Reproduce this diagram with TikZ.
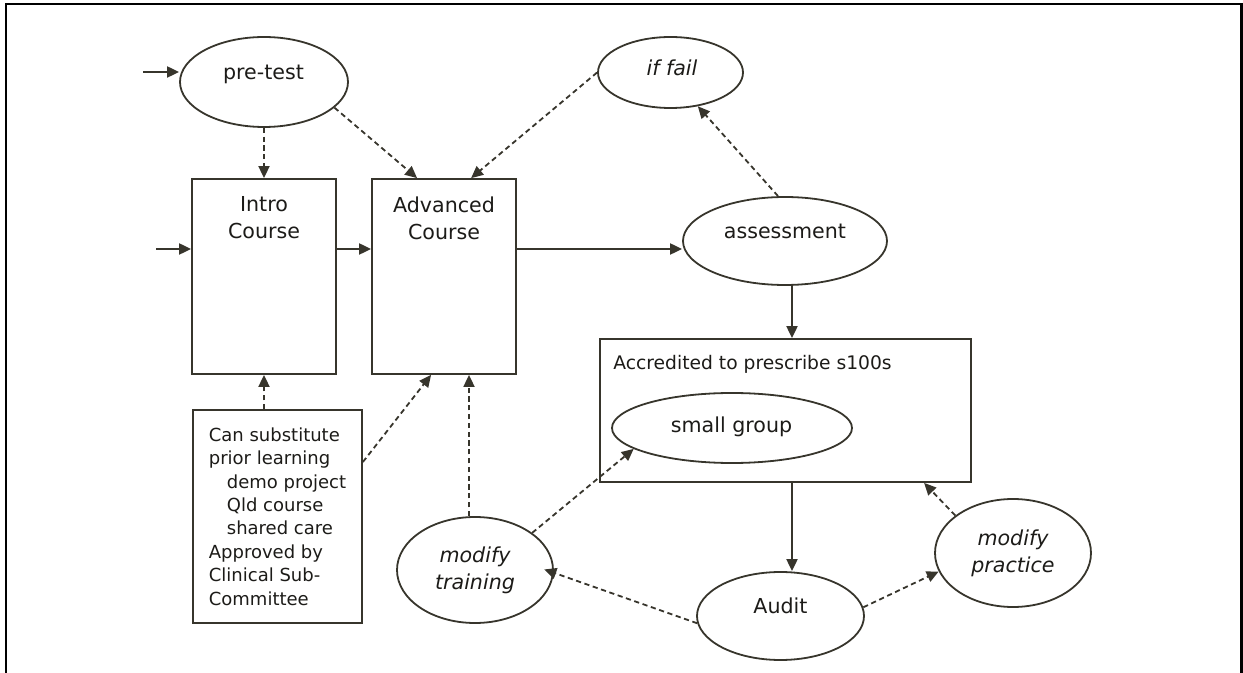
\documentclass[tikz,border=0pt]{standalone}
\usepackage{fontspec}
\setmainfont{DejaVu Sans}
\usetikzlibrary{shapes.geometric,arrows.meta,calc}
\definecolor{ink}{RGB}{55,53,44}
\definecolor{txt}{RGB}{28,27,24}
\begin{document}
\begin{tikzpicture}[x=0.5pt,y=-0.5pt,
  every node/.style={inner sep=0pt, text=txt},
  oval/.style={ellipse, draw=ink, line width=0.9pt},
  boxnode/.style={rectangle, draw=ink, line width=0.9pt},
  lbl/.style={font=\fontsize{10.3}{13.5}\selectfont, align=center},
  itl/.style={font=\fontsize{10.3}{13.5}\selectfont\itshape, align=center},
  flow/.style={draw=ink, line width=1pt, -{Triangle[length=6pt,width=5.5pt]}},
  hint/.style={flow, line width=0.9pt, dash pattern=on 2.6pt off 1.8pt},
]
\useasboundingbox (0,0) rectangle (1243,673);

% page frame, open at the bottom
\draw[black, line width=1.3pt] (6,673) -- (6,4) -- (1241.5,4) -- (1241.5,673);

% ---- nodes ----
\node[oval, minimum width=84pt, minimum height=45pt] (pretest) at (264,82) {};
\node[lbl, anchor=base] (tPre) at (263.5,80) {pre-test};

\node[boxnode, minimum width=72pt, minimum height=97.5pt] (intro) at (264,276.5) {};
\node[lbl, anchor=north] (tIntro) at (264,196) {Intro\\Course};

\node[boxnode, minimum width=72pt, minimum height=97.5pt] (adv) at (444,276.5) {};
\node[lbl, anchor=north] (tAdv) at (444,196) {Advanced\\Course};

\node[oval, minimum width=72.5pt, minimum height=35.5pt] (iffail) at (670.5,72.5) {};
\node[itl, anchor=base] (tFail) at (672,76) {if fail};

\node[oval, minimum width=102pt, minimum height=44pt] (assess) at (785,241) {};
\node[lbl, anchor=base] (tAssess) at (785,239) {assessment};

\node[boxnode, minimum width=185.5pt, minimum height=71.5pt] (accr) at (785.5,410.5) {};
\node[anchor=base west, font=\fontsize{9.35}{11}\selectfont] (tAccr) at (613,370) {Accredited to prescribe s100s};

\node[oval, minimum width=120pt, minimum height=35pt] (small) at (732,428) {};
\node[lbl, anchor=base] (tSmall) at (731.5,433) {small group};

\node[oval, minimum width=83.5pt, minimum height=44pt] (audit) at (780.5,616) {};
\node[lbl, anchor=base] (tAudit) at (780.5,613) {Audit};

\node[oval, itl, minimum width=78pt, minimum height=53pt] (train) at (475,570) {modify\\training};
\node[oval, itl, minimum width=78pt, minimum height=54pt] (practice) at (1013,553) {modify\\practice};

\node[boxnode, align=left, minimum width=84.5pt, minimum height=106.5pt,
      font=\fontsize{9}{11.7}\selectfont] (sub) at (277.5,516.5)
  {Can substitute\\prior learning\\\hspace*{9pt}demo project\\\hspace*{9pt}Qld course\\\hspace*{9pt}shared care\\Approved by\\Clinical Sub-\\Committee};

% ---- entry points ----
\coordinate (inPre) at (143,72);
\coordinate (inIntro) at (156,249);

% ---- solid flow ----
\draw[flow] (inPre) -- (inPre -| pretest.west);
\draw[flow] (inIntro) -- (inIntro -| intro.west);
\draw[flow] (intro.east |- inIntro) -- (adv.west |- inIntro);
\draw[flow] (adv.east |- inIntro) -- (assess.west |- inIntro);
\draw[flow] ([xshift=3.5pt]assess.south) -- ([xshift=3.5pt]assess.south |- accr.north);
\draw[flow] ([xshift=3.25pt]accr.south) -- ([xshift=3.25pt]accr.south |- audit.north);

% ---- dashed feedback ----
\draw[hint] (pretest.south) -- (intro.north);
\draw[hint] (pretest.-20) -- ([xshift=23pt]adv.north west);
\draw[hint] (iffail.west) -- ([xshift=50pt]adv.north west);
\draw[hint] ([xshift=-3.5pt]assess.north) -- (iffail.-51);
\draw[hint, shorten >=-5pt] (audit.185) -- (train.-2);
\draw[hint] (audit.6) -- (practice.194);
\draw[hint] (practice.147) -- ([xshift=162.5pt]accr.south west);
\draw[hint] (train.33) -- (small.192);
\draw[hint] ([xshift=-3pt]train.north) -- ([xshift=-3pt]train.north |- adv.south);
\draw[hint] (intro.south |- sub.north) -- (intro.south);
\draw[hint] ([yshift=27.25pt]sub.east) -- ([xshift=30pt]adv.south west);
\end{tikzpicture}
\end{document}
